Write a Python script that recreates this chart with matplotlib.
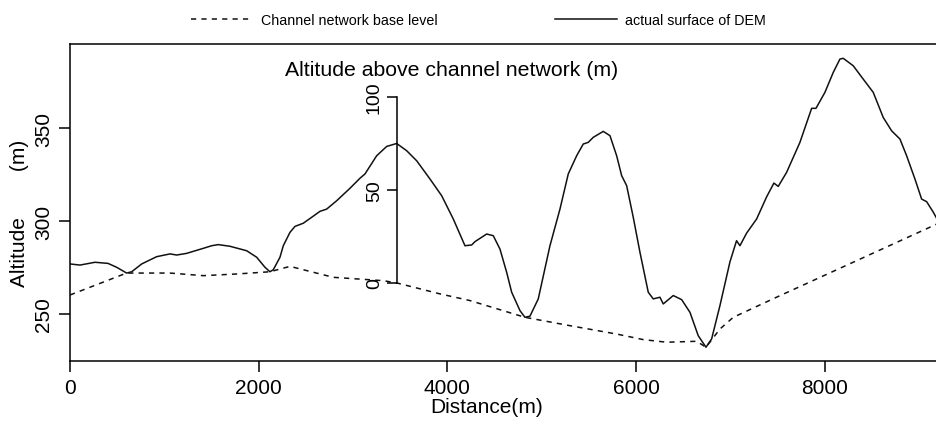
import matplotlib.pyplot as plt

plt.rcParams['font.family'] = ['Liberation Sans', 'DejaVu Sans']

# actual surface of DEM (distance in m, altitude in m)
dist_dem = [0, 106, 265, 403, 495, 600, 654, 760, 918, 1060, 1131, 1237, 1413, 1502, 1572,
            1696, 1873, 1979, 2067, 2120, 2155, 2226, 2261, 2332, 2385, 2473, 2562, 2650, 2721,
            2827, 2968, 3074, 3127, 3251, 3357, 3463, 3569, 3675, 3816, 3940, 4063, 4187, 4258,
            4293, 4417, 4487, 4558, 4629, 4682, 4770, 4823, 4876, 4964, 5088, 5194, 5282, 5371,
            5441, 5494, 5547, 5653, 5724, 5795, 5848, 5901, 5971, 6042, 6130, 6183, 6254, 6289,
            6395, 6484, 6572, 6660, 6742, 6802, 6890, 6996, 7066, 7102, 7173, 7279, 7385, 7462,
            7508, 7597, 7738, 7862, 7908, 8003, 8091, 8162, 8197, 8303, 8409, 8515, 8621, 8710,
            8798, 8869, 8957, 9028, 9081, 9152, 9191]
alt_dem = [276.9, 276.3, 277.8, 277.2, 275.1, 272.0, 272.7, 276.9, 280.8, 282.3, 281.7, 282.6,
           285.3, 286.7, 287.3, 286.4, 284.0, 280.5, 275.1, 272.7, 273.8, 280.5, 286.7, 293.9,
           297.1, 298.8, 302.0, 305.2, 306.4, 310.9, 317.6, 323.0, 325.3, 335.1, 340.1, 341.7,
           337.8, 332.4, 322.6, 313.6, 301.1, 286.7, 287.1, 288.9, 293.0, 292.1, 284.9, 272.4,
           261.7, 251.8, 248.2, 248.8, 258.1, 286.7, 306.4, 325.3, 335.1, 341.4, 342.3, 345.0,
           348.2, 345.9, 335.1, 324.4, 319.0, 302.0, 283.2, 261.7, 258.1, 259.0, 255.4, 259.9,
           257.7, 250.9, 238.3, 232.1, 236.6, 254.5, 278.0, 289.4, 286.7, 293.5, 301.1, 313.0,
           320.4, 318.6, 326.2, 342.3, 360.6, 360.6, 369.2, 379.9, 387.1, 387.5, 383.5, 376.3,
           369.2, 355.7, 348.5, 344.1, 335.1, 322.6, 311.8, 310.4, 304.7, 301.1]

# channel network base level
dist_base = [0, 600, 1060, 1413, 1767, 2120, 2332, 2792, 3321, 3463, 3922, 4240, 4823, 5300,
             5795, 6078, 6325, 6643, 6742, 6890, 7031, 7490, 9191]
alt_base = [260.2, 272.0, 272.0, 270.6, 271.5, 272.7, 275.6, 269.7, 267.9, 266.7, 260.8, 257.2,
            248.2, 243.7, 239.2, 236.2, 234.8, 235.3, 232.1, 241.9, 248.2, 259.0, 298.4]

x_ticks = [0, 2000, 4000, 6000, 8000]
y_ticks = [250, 300, 350]
rel_ticks = [0, 50, 100]
rel_axis_x = 3463      # where the relative altitude axis stands
rel_zero = 266.7       # base level altitude at that point

fig = plt.figure(figsize=(9.37, 4.27), dpi=100)
ax = fig.add_axes([70 / 937, 1 - 362 / 427, 867 / 937, 317 / 427])

ax.plot(dist_base, alt_base, color='#111111', lw=1.1, dashes=(3.4, 3.4),
        label='Channel network base level')
ax.plot(dist_dem, alt_dem, color='#111111', lw=1.1, label='actual surface of DEM')

ax.set_xlim(0, 9191)
ax.set_ylim(224.7, 395.2)
ax.set_xticks(x_ticks)
ax.set_yticks(y_ticks)
ax.spines['right'].set_visible(False)
for s in ax.spines.values():
    s.set_linewidth(1.1)
ax.tick_params(axis='both', direction='out', length=8, width=1.1, labelsize=15, pad=4)
ax.tick_params(axis='y', labelrotation=90)
for lab in ax.get_yticklabels():
    lab.set_va('center')

ax.set_xlabel('Distance(m)', fontsize=15)
ax.xaxis.set_label_coords(0.48, -0.115)
ax.set_ylabel('Altitude        (m)', fontsize=15)
ax.yaxis.set_label_coords(-0.047, 0.47)

# axis of altitude above channel network
ax2 = ax.inset_axes([rel_axis_x, rel_zero, 1, 100], transform=ax.transData)
ax2.set_ylim(0, 100)
ax2.set_yticks(rel_ticks)
ax2.set_xticks([])
ax2.patch.set_visible(False)
for side in ['top', 'right', 'bottom']:
    ax2.spines[side].set_visible(False)
ax2.spines['left'].set_linewidth(1.1)
ax2.tick_params(axis='y', direction='out', length=7, width=1.1, labelsize=14, pad=3,
                labelrotation=90)
for lab in ax2.get_yticklabels():
    lab.set_va('center')
ax.text(4049, 381.7, 'Altitude above channel network (m)', fontsize=15.3,
        ha='center', va='center')

fig.legend(loc='center', bbox_to_anchor=(0.511, 0.950), ncol=2, frameon=False,
           fontsize=10.3, handlelength=4.3, handletextpad=0.6, columnspacing=8.2)

fig.savefig('out.png', dpi=100)
